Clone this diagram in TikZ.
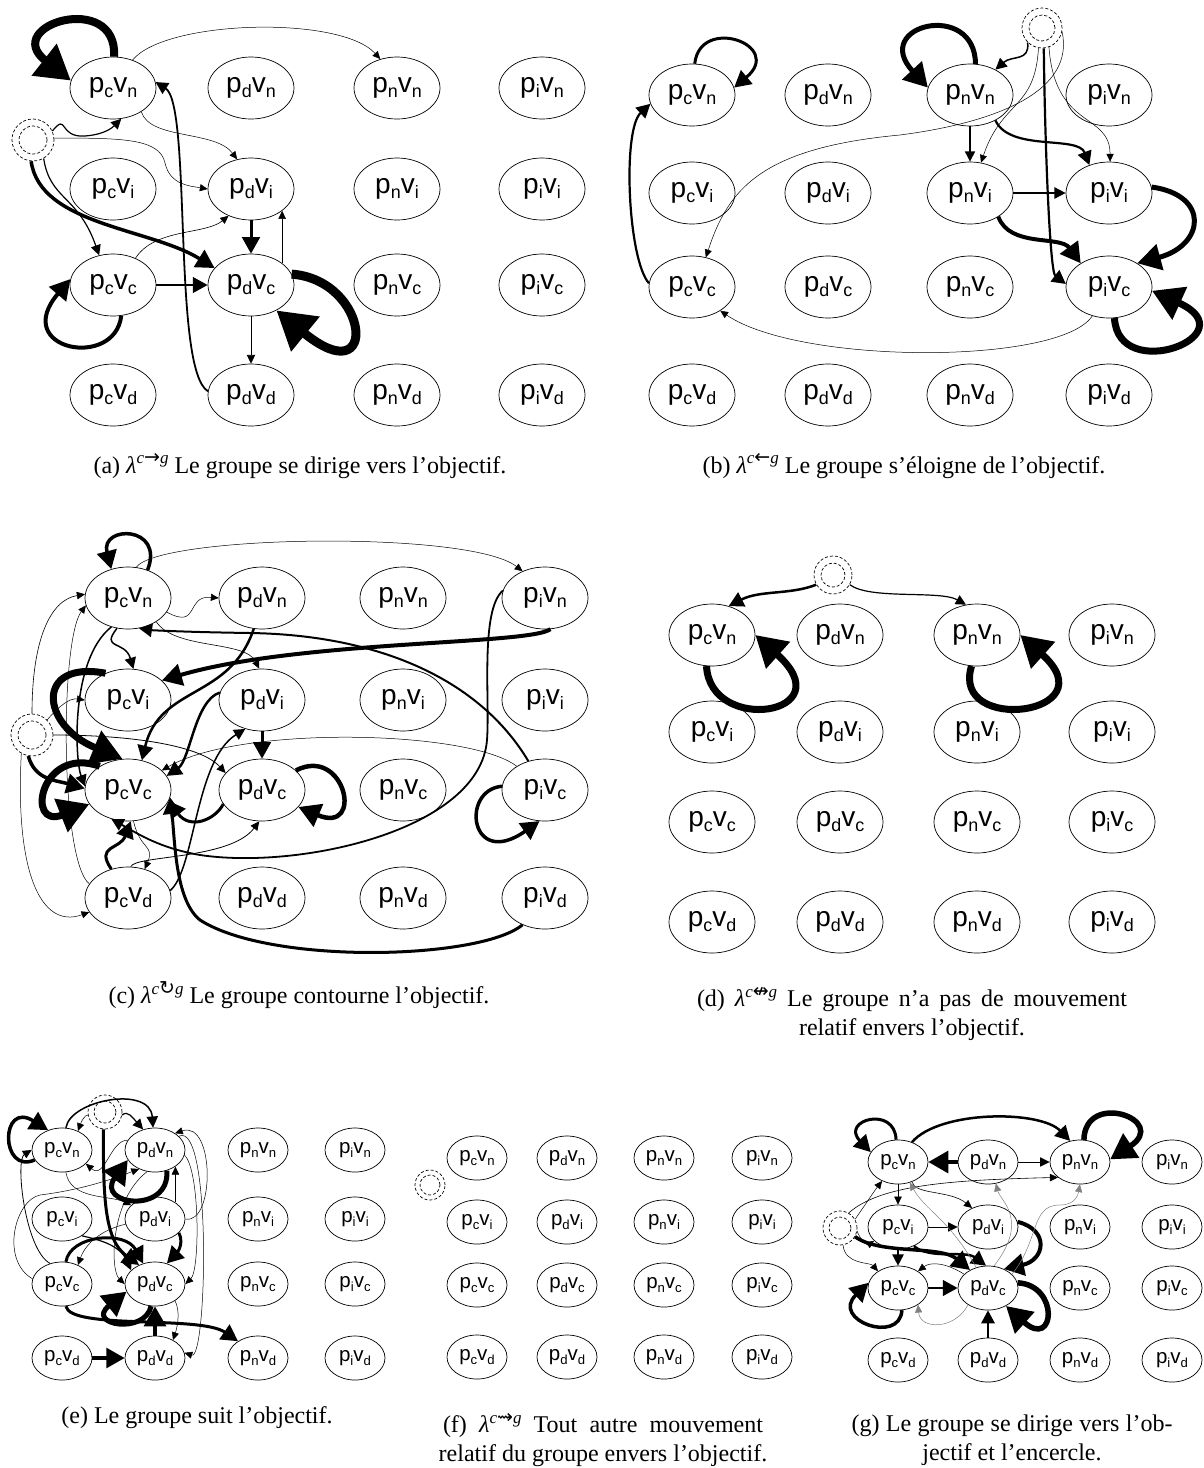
\documentclass[tikz,border=0pt]{standalone}
\usepackage{graphicx}
\usepackage{fontspec}
\setmainfont{Liberation Serif}
\newfontfamily\lsans{Liberation Sans}
\newfontfamily\djv{DejaVu Sans}
\usetikzlibrary{arrows.meta,shapes.geometric}
\newcommand\subx[1]{\raisebox{-0.34ex}{\scalebox{0.64}{#1}}}
\newcommand\pvlab[2]{p\subx{#1}v\subx{#2}}
\newcommand\lam[1]{{\itshape λ}\raisebox{0.85ex}{\fontsize{17}{17}\selectfont\itshape c{\djv\upshape\fontsize{19}{19}\selectfont #1}g}}
\newcommand\mkgrid[4]{\foreach \gP/\gX in {#3}{\foreach \gV/\gY in {#4}{\node[#2] (#1-\gP\gV) at (\gX,\gY) {\pvlab{\gP}{\gV}};}}}
\newcommand\goal[5]{\node[goalc=#4pt] (#1-g) at (#2,#3) {};\node[goalc=#5pt] (#1-gi) at (#2,#3) {};}
\tikzset{
 st/.style={draw, ellipse, line width=0.7pt, minimum width=86pt, minimum height=62pt, inner sep=0pt, font=\lsans\fontsize{28}{28}\selectfont},
 sm/.style={st, minimum width=60pt, minimum height=44pt, font=\lsans\fontsize{20.5}{20.5}\selectfont},
 goalc/.style={draw, dashed, circle, minimum size=#1, inner sep=0pt, line width=0.7pt, dash pattern=on 3pt off 2pt},
 ed/.style={line width=#1pt, -{Triangle[length=6pt 3.5, width=5pt 4.2]}},
 capt/.style={font=\fontsize{24}{29}\selectfont, inner sep=0pt, align=center},
}
\begin{document}
\begin{tikzpicture}[x=1pt,y=-1pt]
\useasboundingbox (0,0) rectangle (1204,1468);
% ---------- grids
\mkgrid{a}{st}{c/113,d/251,n/397,i/542}{n/88,i/189,c/285,d/395}
\mkgrid{b}{st}{c/692,d/828,n/970,i/1109}{n/95,i/193,c/287,d/395}
\mkgrid{c}{st}{c/128,d/262,n/403,i/545}{n/598,i/700,c/790,d/898}
\mkgrid{d}{st}{c/712,d/840,n/977,i/1112}{n/635,i/732,c/822,d/922}
\mkgrid{e}{sm}{c/62,d/155,n/258,i/355}{n/1150,i/1219,c/1284,d/1358}
\mkgrid{f}{sm}{c/477,d/567,n/664,i/762}{n/1158,i/1222,c/1285,d/1357}
\mkgrid{g}{sm}{c/898,d/988,n/1080,i/1172}{n/1162,i/1227,c/1288,d/1360}
\goal{a}{33}{140}{42}{28}
\goal{b}{1042}{28}{40}{26}
\goal{c}{32}{735}{42}{28}
\goal{d}{833}{575}{38}{24}
\goal{e}{105}{1112}{34}{22}
\goal{f}{430}{1185}{30}{20}
\goal{g}{840}{1228}{34}{22}
% ---------- (a)
\draw[ed=8] (a-cn.88) .. controls (118,-10) and (0,25) .. (a-cn.170);
\draw[ed=0.5] (a-cn.55) .. controls (165,20) and (340,15) .. (a-nn.120);
\draw[ed=1.2] (a-g.25) .. controls (68,112) and (58,138) .. (85,136) .. controls (100,135) and (110,130) .. (a-cn.-75);
\draw[ed=0.5] (a-g.5) .. controls (120,138) and (160,138) .. (165,163) .. controls (170,185) and (190,186) .. (a-di.180);
\draw[ed=0.5] (a-cn.-40) .. controls (150,140) and (215,130) .. (a-di.115);
\draw[ed=3.5] (a-g.-95) .. controls (40,225) and (150,228) .. (a-dc.155);
\draw[ed=1.2] (a-g.-60) .. controls (50,200) and (78,195) .. (a-cc.115);
\draw[ed=0.6] (a-cc.50) .. controls (155,228) and (205,235) .. (a-di.-130);
\draw[ed=2.5] (a-cc) -- (a-dc);
\draw[ed=4] (a-cc.-75) .. controls (115,370) and (10,350) .. (a-cc.172);
\draw[ed=3] (a-di) -- (a-dc);
\draw[ed=0.6] (a-dc.35) -- (a-di.-35);
\draw[ed=0.8] (a-dc) -- (a-dd);
\draw[ed=9] (a-dc.15) .. controls (370,280) and (380,395) .. (a-dc.-45);
\draw[ed=1.8] (a-dd.175) .. controls (172,370) and (192,105) .. (a-cn.8);
% ---------- (b)
\draw[ed=3] (b-cn.85) .. controls (700,15) and (785,45) .. (b-cn.10);
\draw[ed=2.2] (b-cc.175) .. controls (628,260) and (622,130) .. (b-cn.192);
\draw[ed=0.5] (b-g.-10) .. controls (1075,90) and (1000,122) .. (900,135) .. controls (760,148) and (728,190) .. (b-cc.65);
\draw[ed=0.5] (b-ic.-120) .. controls (1060,365) and (800,365) .. (b-cc.-40);
\draw[ed=5] (b-nn.80) .. controls (975,0) and (870,25) .. (b-nn.170);
\draw[ed=1.5] (b-g.-135) .. controls (1030,62) and (1012,55) .. (b-nn.45);
\draw[ed=0.5] (b-g.-100) .. controls (1035,110) and (1002,100) .. (b-ni.70);
\draw[ed=2.2] (b-g.-85) .. controls (1045,150) and (1050,272) .. (b-ic.176);
\draw[ed=0.5] (b-g.-70) .. controls (1055,130) and (1110,112) .. (b-ii.88);
\draw[ed=1.2] (b-nn) -- (b-ni);
\draw[ed=2.2] (b-nn.-45) .. controls (1010,152) and (1078,135) .. (b-ii.125);
\draw[ed=1.5] (b-ni) -- (b-ii);
\draw[ed=4] (b-ni.-40) .. controls (1010,248) and (1060,235) .. (b-ic.140);
\draw[ed=5] (b-ii.8) .. controls (1210,195) and (1205,245) .. (b-ic.40);
\draw[ed=7] (b-ic.-80) .. controls (1118,385) and (1250,335) .. (b-ic.-5);
% ---------- (c)
\draw[ed=3.5] (c-cn.55) .. controls (165,525) and (100,525) .. (c-cn.120);
\draw[ed=0.5] (c-cn.75) .. controls (160,535) and (470,530) .. (c-in.130);
\draw[ed=0.5] (c-cn.-20) .. controls (200,630) and (185,595) .. (c-dn.180);
\draw[ed=0.6] (c-cn.-40) .. controls (175,650) and (245,640) .. (c-di.95);
\draw[ed=2] (c-ic.120) .. controls (480,680) and (380,635) .. (250,633) .. controls (180,632) and (150,630) .. (c-cn.-70);
\draw[ed=4] (c-in.-80) .. controls (530,645) and (300,640) .. (c-ci.30);
\draw[ed=1.5] (c-cn.-110) .. controls (100,650) and (125,640) .. (c-ci.80);
\draw[ed=1.5] (c-cn.-120) .. controls (70,660) and (75,760) .. (c-cc.175);
\draw[ed=7] (c-ci.130) .. controls (35,660) and (40,725) .. (c-cc.100);
\draw[ed=0.6] (c-g.90) .. controls (32,640) and (50,600) .. (c-cn.175);
\draw[ed=3.5] (c-g.-100) .. controls (35,780) and (55,780) .. (c-cc.178);
\draw[ed=7] (c-cc.140) .. controls (40,745) and (25,830) .. (c-cc.-160);
\draw[ed=0.8] (c-g.0) .. controls (130,735) and (200,745) .. (c-dc.155);
\draw[ed=2.5] (c-dn.-105) .. controls (230,700) and (160,685) .. (c-cc.65);
\draw[ed=2.5] (c-di.170) .. controls (195,700) and (190,760) .. (c-cc.20);
\draw[ed=3] (c-di) -- (c-dc);
\draw[ed=4.5] (c-dc.30) .. controls (345,745) and (365,835) .. (c-dc.-25);
\draw[ed=1.5] (c-cd.10) .. controls (195,870) and (195,760) .. (c-di.-120);
\draw[ed=3] (c-dc.-160) .. controls (215,820) and (190,830) .. (c-cc.-15);
\draw[ed=3] (c-cd.120) .. controls (95,845) and (120,850) .. (c-cc.-85);
\draw[ed=1.8] (c-in.170) .. controls (480,610) and (490,700) .. (487,740) .. controls (480,830) and (300,870) .. (200,855) .. controls (160,848) and (140,835) .. (c-cc.-120);
\draw[ed=3] (c-id.-130) .. controls (480,960) and (270,965) .. (200,920) .. controls (175,900) and (175,840) .. (c-cc.-10);
\draw[ed=0.5] (c-ic.140) .. controls (470,730) and (240,725) .. (c-cc.30);
\draw[ed=3.5] (c-ic.175) .. controls (460,790) and (470,870) .. (c-ic.-100);
\draw[ed=0.5] (c-g.-120) .. controls (15,870) and (40,930) .. (c-cd.-160);
\draw[ed=0.5] (c-cd.160) .. controls (60,860) and (60,640) .. (c-cn.190);
\draw[ed=0.5] (c-cc.-80) .. controls (140,850) and (155,845) .. (c-cd.60);
\draw[ed=0.8] (c-cd.85) .. controls (135,855) and (230,860) .. (c-dc.-95);
\draw[ed=0.5] (c-g.45) .. controls (60,705) and (70,698) .. (c-ci.180);
% ---------- (d)
\draw[ed=2.5] (d-g.-150) .. controls (790,595) and (760,590) .. (d-cn.60);
\draw[ed=1.2] (d-g.-30) .. controls (870,600) and (940,590) .. (d-nn.110);
\draw[ed=7] (d-cn.-100) .. controls (710,735) and (845,715) .. (d-cn.0);
\draw[ed=7] (d-nn.-100) .. controls (950,735) and (1110,715) .. (d-nn.0);
% ---------- (e)
\draw[ed=3.5] (e-cn.-160) .. controls (0,1175) and (0,1100) .. (e-cn.125);
\draw[ed=1.5] (e-cn.80) .. controls (70,1100) and (150,1085) .. (e-dn.95);
\draw[ed=0.5] (e-g.190) .. controls (85,1115) and (82,1120) .. (e-cn.50);
\draw[ed=1.2] (e-g.-10) .. controls (128,1110) and (133,1118) .. (e-dn.120);
\draw[ed=3] (e-g.-95) .. controls (103,1200) and (105,1240) .. (e-dc.130);
\draw[ed=5] (e-dn.-60) .. controls (170,1215) and (95,1205) .. (e-dn.200);
\draw[ed=0.5] (e-dn.160) .. controls (110,1140) and (105,1180) .. (e-cn.-30);
\draw[ed=0.5] (e-cn.-80) .. controls (70,1200) and (110,1195) .. (e-di.150);
\draw[ed=0.6] (e-di.39) -- (e-dn.-39);
\draw[ed=0.5] (e-cc.170) .. controls (0,1260) and (15,1200) .. (40,1195) .. controls (80,1190) and (110,1180) .. (e-dn.-130);
\draw[ed=0.8] (e-cc.120) .. controls (25,1250) and (15,1160) .. (e-cn.180);
\draw[ed=3] (e-cc.80) .. controls (70,1235) and (125,1230) .. (e-dc.120);
\draw[ed=0.5] (e-di.190) .. controls (100,1230) and (85,1245) .. (e-cc.50);
\draw[ed=1.2] (e-ci.-40) .. controls (100,1240) and (120,1245) .. (e-dc.150);
\draw[ed=3] (e-di.-30) .. controls (185,1245) and (175,1255) .. (e-dc.60);
\draw[ed=5] (e-dc.-100) .. controls (145,1335) and (85,1325) .. (e-dc.195);
\draw[ed=0.5] (e-dn.-110) .. controls (110,1200) and (110,1270) .. (e-dc.180);
\draw[ed=0.5] (e-dn.-10) .. controls (200,1170) and (200,1270) .. (e-dc.0);
\draw[ed=0.5] (e-dn.30) .. controls (212,1120) and (207,1360) .. (e-dd.10);
\draw[ed=0.5] (e-di.0) .. controls (215,1225) and (215,1120) .. (e-dn.40);
\draw[ed=3] (e-cc.-80) .. controls (70,1330) and (200,1315) .. (e-nd.140);
\draw[ed=4] (e-dd) -- (e-dc);
\draw[ed=3.5] (e-cd) -- (e-dd);
\draw[ed=0.5] (e-dc.-40) .. controls (180,1310) and (178,1325) .. (e-dd.45);
% ---------- (g)
\draw[ed=3] (g-cn.95) .. controls (895,1105) and (840,1120) .. (g-cn.160);
\draw[ed=2.5] (g-cn.55) .. controls (940,1110) and (1040,1110) .. (g-nn.115);
\draw[ed=5.5] (g-nn.80) .. controls (1085,1090) and (1170,1120) .. (g-nn.5);
\draw[ed=4] (g-dn) -- (g-cn);
\draw[ed=1] (g-dn) -- (g-nn);
\draw[ed=0.6] (g-g.60) .. controls (880,1185) and (950,1180) .. (g-nn.-145);
\draw[ed=0.5] (g-g.30) .. controls (865,1205) and (875,1190) .. (g-cn.-130);
\draw[ed=0.6] (g-cn) -- (g-ci);
\draw[ed=0.6] (g-cn.-55) .. controls (915,1195) and (950,1190) .. (g-di.130);
\draw[ed=1] (g-ci) -- (g-di);
\draw[ed=4] (g-di.10) .. controls (1050,1230) and (1045,1260) .. (g-dc.50);
\draw[ed=2.5] (g-ci.-50) .. controls (930,1260) and (965,1250) .. (g-dc.95);
\draw[ed=3.5] (g-g.-30) .. controls (880,1255) and (940,1245) .. (g-dc.135);
\draw[ed=0.5] (g-g.-80) .. controls (845,1265) and (870,1262) .. (g-cc.140);
\draw[ed=0.5] (g-g.-10) .. controls (860,1240) and (868,1245) .. (g-ci.-150);
\draw[ed=1.5] (g-ci) -- (g-cc);
\draw[ed=0.5] (g-dc.150) .. controls (945,1262) and (930,1262) .. (g-cc.40);
\draw[ed=2.5] (g-cc) -- (g-dc);
\draw[ed=3.5] (g-cc.-80) .. controls (900,1345) and (830,1320) .. (g-cc.170);
\draw[ed=5.5] (g-dc.10) .. controls (1060,1285) and (1055,1350) .. (g-dc.-45);
\draw[ed=2] (g-dd) -- (g-dc);
\draw[ed=0.5, gray] (g-dc.-140) .. controls (955,1330) and (920,1330) .. (g-cc.-40);
\draw[ed=0.5, gray] (g-dc.30) .. controls (1040,1240) and (1030,1205) .. (1060,1205) .. controls (1075,1205) and (1078,1195) .. (g-nn.-90);
\draw[ed=0.5, gray] (g-dc.75) .. controls (1030,1220) and (1000,1200) .. (g-dn.-70);
\draw[ed=0.5, gray] (g-dc.120) .. controls (950,1220) and (925,1210) .. (g-cn.-60);
% ---------- captions
\node[capt] (capa) at (300,466) {(a) \lam{→} Le groupe se dirige vers l’objectif.};
\node[capt] (capb) at (904,466) {(b) \lam{←} Le groupe s’éloigne de l’objectif.};
\node[capt] (capc) at (299,995) {(c) \lam{↻} Le groupe contourne l’objectif.};
\node[capt] (capd) at (912,1014) {\makebox[430pt][s]{(d) \lam{↮} Le groupe n’a pas de mouvement}\\relatif envers l’objectif.};
\node[capt] (cape) at (197,1418) {(e) Le groupe suit l’objectif.};
\node[capt] (capf) at (603,1440) {\makebox[320pt][s]{(f) \lam{⇝} Tout autre mouvement}\\relatif du groupe envers l’objectif.};
\node[capt] (capg) at (1012,1440) {\makebox[321pt][s]{(g) Le groupe se dirige vers l’ob-}\\jectif et l’encercle.};
\end{tikzpicture}
\end{document}
